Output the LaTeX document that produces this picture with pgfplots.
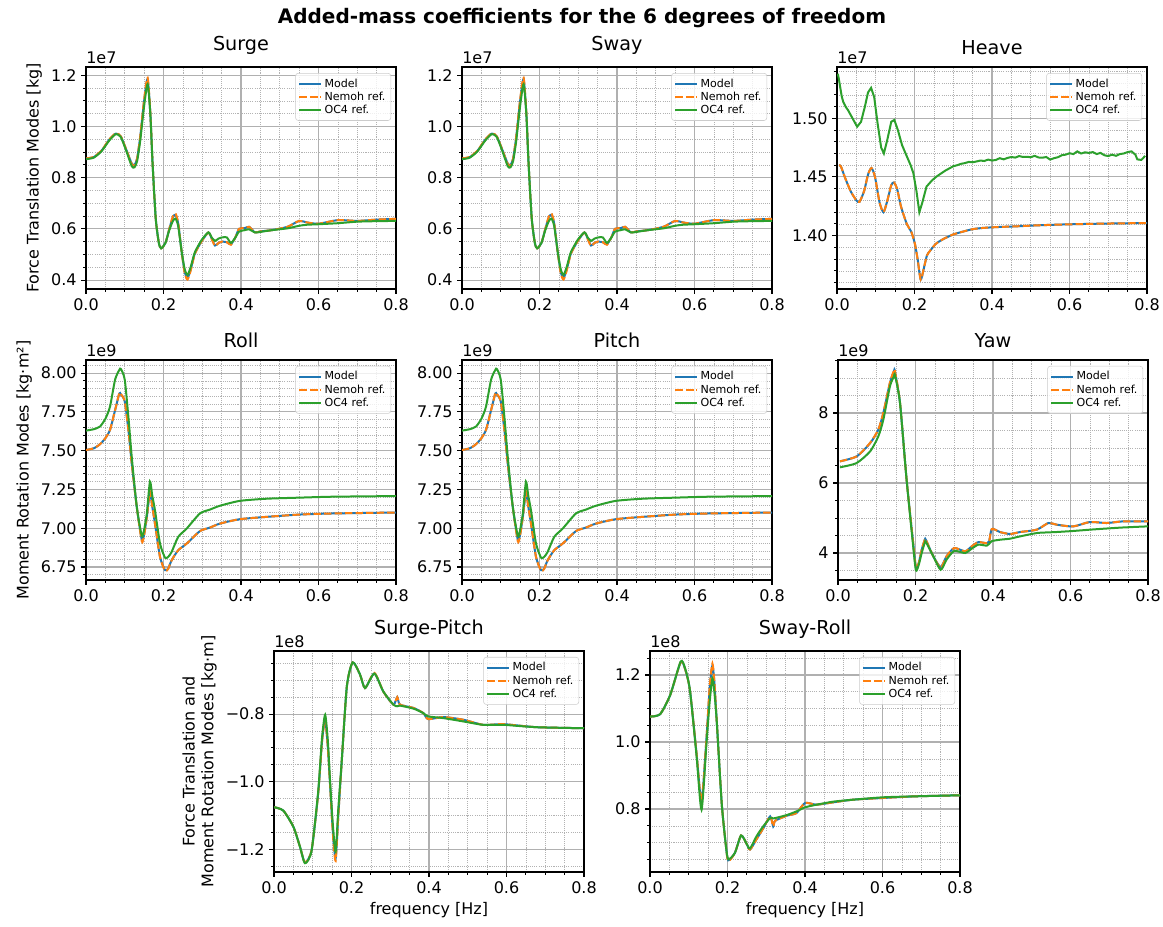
\documentclass[border=0pt]{standalone}
\usepackage{pgfplots}
\usepackage{pgfplotstable}
\usepackage{fontspec}
\setmainfont{DejaVu Sans}
\pgfplotsset{compat=1.18}

\definecolor{c0}{HTML}{1F77B4}
\definecolor{c1}{HTML}{FF7F0E}
\definecolor{c2}{HTML}{2CA02C}
\definecolor{gridgray}{HTML}{B0B0B0}

% data in units of the offset shown above each axis (1e7, 1e9, 1e8)
\pgfplotstableread{
f      m      n      o
0.000  0.875  0.875  0.872
0.020  0.880  0.881  0.878
0.040  0.905  0.906  0.903
0.060  0.948  0.949  0.945
0.077  0.972  0.973  0.970
0.090  0.960  0.961  0.958
0.105  0.905  0.905  0.900
0.118  0.855  0.853  0.845
0.125  0.849  0.847  0.840
0.132  0.875  0.875  0.865
0.140  0.960  0.962  0.945
0.150  1.100  1.105  1.080
0.159  1.185  1.190  1.165
0.166  1.050  1.055  1.050
0.172  0.850  0.850  0.850
0.180  0.640  0.640  0.640
0.188  0.545  0.545  0.545
0.194  0.524  0.524  0.524
0.205  0.545  0.545  0.545
0.215  0.600  0.600  0.595
0.224  0.645  0.648  0.630
0.231  0.655  0.660  0.640
0.238  0.620  0.622  0.610
0.247  0.510  0.508  0.510
0.255  0.430  0.425  0.440
0.262  0.408  0.402  0.420
0.270  0.440  0.436  0.450
0.280  0.500  0.498  0.505
0.290  0.530  0.530  0.535
0.300  0.555  0.555  0.560
0.316  0.586  0.586  0.586
0.325  0.560  0.558  0.565
0.333  0.535  0.533  0.553
0.342  0.545  0.545  0.562
0.350  0.550  0.550  0.566
0.363  0.548  0.548  0.567
0.374  0.540  0.538  0.545
0.385  0.565  0.565  0.565
0.395  0.600  0.600  0.589
0.410  0.603  0.603  0.595
0.421  0.608  0.608  0.598
0.436  0.586  0.586  0.586
0.450  0.590  0.590  0.588
0.480  0.595  0.595  0.595
0.520  0.608  0.608  0.602
0.550  0.631  0.631  0.612
0.570  0.625  0.625  0.616
0.600  0.620  0.620  0.618
0.650  0.634  0.634  0.622
0.700  0.631  0.631  0.628
0.750  0.636  0.636  0.630
0.800  0.639  0.639  0.631
}\surge

\pgfplotstableread{
f      m
0.005  1.4600
0.010  1.4590
0.020  1.4500
0.035  1.4380
0.050  1.4300
0.058  1.4288
0.070  1.4380
0.080  1.4520
0.089  1.4576
0.098  1.4500
0.110  1.4280
0.120  1.4200
0.130  1.4300
0.140  1.4430
0.147  1.4453
0.155  1.4400
0.165  1.4250
0.180  1.4100
0.192  1.4030
0.201  1.3930
0.208  1.3800
0.216  1.3625
0.224  1.3720
0.232  1.3830
0.240  1.3870
0.255  1.3930
0.274  1.3970
0.300  1.4010
0.326  1.4035
0.350  1.4055
0.378  1.4066
0.420  1.4074
0.455  1.4078
0.520  1.4088
0.584  1.4095
0.650  1.4100
0.720  1.4104
0.800  1.4107
}\heavem

\pgfplotstableread{
f      o
0.002  1.5380
0.005  1.5330
0.008  1.5270
0.012  1.5190
0.016  1.5140
0.022  1.5100
0.029  1.5066
0.040  1.5000
0.052  1.4928
0.062  1.4970
0.072  1.5100
0.080  1.5220
0.088  1.5260
0.096  1.5180
0.105  1.4950
0.114  1.4750
0.121  1.4700
0.130  1.4820
0.140  1.4970
0.148  1.4986
0.157  1.4900
0.168  1.4770
0.180  1.4677
0.190  1.4600
0.197  1.4533
0.205  1.4380
0.2125 1.4200
0.220  1.4280
0.231  1.4418
0.245  1.4470
0.257  1.4504
0.280  1.4555
0.300  1.4591
0.310  1.4600
0.320  1.4612
0.330  1.4618
0.340  1.4628
0.350  1.4625
0.360  1.4632
0.370  1.4640
0.380  1.4636
0.390  1.4648
0.400  1.4640
0.410  1.4645
0.420  1.4660
0.430  1.4650
0.440  1.4662
0.450  1.4670
0.460  1.4665
0.470  1.4678
0.480  1.4670
0.490  1.4672
0.500  1.4668
0.510  1.4680
0.520  1.4666
0.530  1.4664
0.540  1.4670
0.550  1.4648
0.560  1.4660
0.570  1.4668
0.580  1.4685
0.590  1.4690
0.600  1.4702
0.610  1.4695
0.620  1.4718
0.630  1.4700
0.640  1.4710
0.650  1.4705
0.660  1.4712
0.670  1.4695
0.680  1.4705
0.690  1.4685
0.700  1.4678
0.710  1.4690
0.720  1.4680
0.730  1.4695
0.740  1.4700
0.750  1.4712
0.760  1.4718
0.770  1.4690
0.775  1.4650
0.785  1.4645
0.790  1.4660
0.795  1.4680
}\heaveo

\pgfplotstableread{
f      m      n      o
0.000  7.504  7.504  7.629
0.020  7.515  7.515  7.638
0.036  7.541  7.541  7.655
0.050  7.580  7.580  7.705
0.062  7.634  7.634  7.784
0.075  7.760  7.760  7.957
0.086  7.868  7.871  8.020
0.090  7.862  7.865  8.026
0.100  7.817  7.817  7.957
0.110  7.620  7.620  7.700
0.118  7.418  7.418  7.461
0.131  7.138  7.138  7.138
0.144  6.925  6.915  6.950
0.150  6.960  6.955  6.990
0.157  7.073  7.073  7.095
0.165  7.230  7.238  7.300
0.171  7.140  7.140  7.210
0.178  7.030  7.030  7.116
0.191  6.815  6.815  6.901
0.204  6.730  6.726  6.810
0.212  6.740  6.738  6.815
0.221  6.793  6.793  6.847
0.238  6.858  6.858  6.944
0.260  6.901  6.901  6.998
0.294  6.981  6.981  7.095
0.320  7.004  7.004  7.120
0.346  7.030  7.030  7.145
0.397  7.058  7.058  7.176
0.466  7.073  7.073  7.190
0.552  7.088  7.088  7.197
0.638  7.095  7.095  7.203
0.800  7.101  7.101  7.207
}\roll

\pgfplotstableread{
f      m      n      o
0.005  6.619  6.619  6.448
0.048  6.760  6.760  6.571
0.083  7.140  7.150  6.905
0.104  7.520  7.530  7.333
0.117  8.000  8.010  7.810
0.134  8.857  8.870  8.762
0.1445 9.200  9.215  9.050
0.147  9.180  9.190  9.080
0.160  8.286  8.300  8.286
0.177  6.095  6.095  6.095
0.194  4.286  4.286  4.190
0.201  3.600  3.600  3.505
0.208  3.700  3.700  3.650
0.216  4.095  4.095  4.000
0.224  4.381  4.381  4.300
0.227  4.370  4.370  4.314
0.246  3.905  3.905  3.905
0.265  3.600  3.580  3.520
0.280  3.905  3.905  3.810
0.300  4.143  4.143  4.060
0.328  4.048  4.048  4.000
0.345  4.190  4.190  4.124
0.362  4.310  4.310  4.238
0.384  4.280  4.280  4.210
0.390  4.330  4.330  4.260
0.397  4.686  4.686  4.340
0.418  4.600  4.600  4.380
0.444  4.543  4.543  4.410
0.470  4.600  4.600  4.476
0.513  4.667  4.667  4.571
0.543  4.857  4.857  4.590
0.564  4.810  4.810  4.600
0.607  4.760  4.760  4.630
0.650  4.886  4.886  4.667
0.693  4.857  4.857  4.700
0.736  4.905  4.905  4.730
0.800  4.905  4.905  4.762
}\yaw

\pgfplotstableread{
f      m       n       o
0.000  -1.076  -1.076  -1.076
0.024  -1.086  -1.086  -1.086
0.050  -1.134  -1.134  -1.134
0.067  -1.193  -1.193  -1.193
0.080  -1.240  -1.240  -1.242
0.097  -1.203  -1.203  -1.205
0.114  -1.035  -1.035  -1.030
0.124  -0.880  -0.880  -0.870
0.132  -0.817  -0.817  -0.802
0.139  -0.900  -0.900  -0.880
0.145  -1.015  -1.015  -1.005
0.152  -1.150  -1.155  -1.130
0.159  -1.228  -1.235  -1.208
0.166  -1.100  -1.100  -1.080
0.175  -0.936  -0.936  -0.936
0.188  -0.718  -0.718  -0.718
0.203  -0.647  -0.647  -0.647
0.222  -0.683  -0.683  -0.683
0.235  -0.723  -0.723  -0.723
0.259  -0.680  -0.678  -0.680
0.282  -0.733  -0.733  -0.733
0.308  -0.772  -0.772  -0.772
0.318  -0.750  -0.750  -0.777
0.325  -0.772  -0.772  -0.775
0.360  -0.782  -0.782  -0.784
0.385  -0.797  -0.797  -0.797
0.398  -0.815  -0.815  -0.807
0.437  -0.809  -0.809  -0.812
0.489  -0.817  -0.817  -0.822
0.540  -0.832  -0.832  -0.832
0.592  -0.830  -0.830  -0.832
0.678  -0.839  -0.839  -0.839
0.800  -0.842  -0.842  -0.842
}\surgepitch

\pgfplotstableread{
f      m      n      o
0.000  1.076  1.076  1.076
0.026  1.083  1.083  1.083
0.052  1.140  1.140  1.140
0.079  1.238  1.238  1.240
0.090  1.220  1.220  1.222
0.103  1.155  1.155  1.155
0.120  0.967  0.967  0.960
0.133  0.823  0.823  0.798
0.146  1.016  1.016  1.000
0.154  1.160  1.165  1.120
0.161  1.228  1.234  1.190
0.166  1.180  1.182  1.150
0.172  1.066  1.066  1.066
0.185  0.818  0.818  0.818
0.196  0.689  0.689  0.689
0.202  0.647  0.645  0.650
0.219  0.669  0.669  0.669
0.235  0.721  0.721  0.721
0.249  0.697  0.697  0.697
0.258  0.679  0.679  0.682
0.275  0.710  0.710  0.719
0.292  0.742  0.742  0.748
0.310  0.778  0.778  0.773
0.318  0.748  0.748  0.772
0.323  0.765  0.765  0.773
0.353  0.780  0.780  0.782
0.378  0.788  0.788  0.793
0.400  0.818  0.818  0.805
0.430  0.813  0.813  0.813
0.473  0.820  0.820  0.822
0.525  0.828  0.828  0.828
0.602  0.833  0.833  0.835
0.688  0.838  0.838  0.838
0.800  0.841  0.841  0.841
}\swayroll

\pgfplotsset{
  panel/.style={
    scale only axis, width=232.5pt, height=165.75pt,
    xmin=0, xmax=0.8,
    xtick={0,0.2,0.4,0.6,0.8},
    minor xtick={0.05,0.1,0.15,0.25,0.3,0.35,0.45,0.5,0.55,0.65,0.7,0.75},
    x tick label style={/pgf/number format/.cd, fixed, fixed zerofill, precision=1, /tikz/.cd},
    scaled ticks=false,
    /pgf/number format/assume math mode=true,
    grid=both,
    major grid style={draw=gridgray, line width=0.8pt},
    minor grid style={draw=gray!60, line width=0.4pt, dash pattern=on 0.8pt off 0.8pt},
    tick align=outside, tick pos=left,
    major tick length=3.5pt, minor tick length=2pt,
    every major tick/.append style={black, line width=0.8pt},
    every minor tick/.append style={black, line width=0.6pt},
    axis line style={line width=0.8pt},
    tick label style={font=\fontsize{12}{14}\selectfont},
    label style={font=\fontsize{12}{14}\selectfont},
    title style={font=\fontsize{14.4}{17}\selectfont, yshift=0pt},
    legend style={at={(0.984,0.973)}, anchor=north east,
      font=\fontsize{8.3}{10}\selectfont, draw=black!20, rounded corners=2pt,
      fill=white, fill opacity=0.8, text opacity=1, inner sep=2pt, row sep=-2pt},
    legend cell align=left,
    legend image post style={xscale=0.95},
  },
  offset/.style={extra description/.code={
    \node[anchor=south west, inner sep=0pt, font=\fontsize{12}{14}\selectfont]
      at (0,1.015) {#1};}},
  model/.style={c0, line width=1.5pt, smooth, tension=0.4},
  nemoh/.style={c1, line width=1.5pt, dash pattern=on 5.5pt off 2.4pt, smooth, tension=0.4},
  oc4/.style={c2, line width=1.5pt, smooth, tension=0.4},
}

\newcommand{\threeplots}[1]{%
  \addplot[model] table[x=f, y=m] {#1};
  \addplot[nemoh] table[x=f, y=n] {#1};
  \addplot[oc4] table[x=f, y=o] {#1};
  \legend{Model, Nemoh ref., OC4 ref.}
}

\begin{document}
\begin{tikzpicture}
\useasboundingbox (0,0) rectangle (872.25pt,-694.5pt);

\node[font=\fontsize{15}{18}\selectfont\bfseries] at (436.5pt,-13.5pt) {Added-mass coefficients for the 6 degrees of freedom};

% row 1: translations
\begin{axis}[panel, at={(64.5pt,-50.25pt)}, anchor=north west, height=166.5pt,
  title={Surge}, ylabel={Force Translation Modes [kg]}, offset={1e7},
  ymin=0.365, ymax=1.232, ytick={0.4,0.6,0.8,1.0,1.2},
  minor ytick={0.45,0.5,0.55,0.65,0.7,0.75,0.85,0.9,0.95,1.05,1.1,1.15,1.25},
  y tick label style={/pgf/number format/.cd, fixed, fixed zerofill, precision=1, /tikz/.cd}]
\threeplots{\surge}
\end{axis}

\begin{axis}[panel, at={(346.5pt,-50.25pt)}, anchor=north west, height=166.5pt,
  title={Sway}, offset={1e7},
  ymin=0.365, ymax=1.232, ytick={0.4,0.6,0.8,1.0,1.2},
  minor ytick={0.45,0.5,0.55,0.65,0.7,0.75,0.85,0.9,0.95,1.05,1.1,1.15,1.25},
  y tick label style={/pgf/number format/.cd, fixed, fixed zerofill, precision=1, /tikz/.cd}]
\threeplots{\surge}
\end{axis}

\begin{axis}[panel, at={(627.75pt,-50.25pt)}, anchor=north west, height=166.5pt,
  title={Heave}, offset={1e7},
  ymin=1.3545, ymax=1.5437, ytick={1.40,1.45,1.50},
  minor ytick={1.36,1.37,1.38,1.39,1.41,1.42,1.43,1.44,1.46,1.47,1.48,1.49,1.51,1.52,1.53,1.54},
  y tick label style={/pgf/number format/.cd, fixed, fixed zerofill, precision=2, /tikz/.cd}]
\addplot[model] table[x=f, y=m] {\heavem};
\addplot[nemoh] table[x=f, y=m] {\heavem};
\addplot[c2, line width=1.5pt] table[x=f, y=o] {\heaveo};
\legend{Model, Nemoh ref., OC4 ref.}
\end{axis}

% row 2: rotations
\begin{axis}[panel, at={(64.5pt,-270pt)}, anchor=north west, height=165pt,
  title={Roll}, ylabel={Moment Rotation Modes [kg·m²]}, offset={1e9},
  ymin=6.666, ymax=8.084, ytick={6.75,7.00,7.25,7.50,7.75,8.00},
  minor ytick={6.7,6.8,6.85,6.9,6.95,7.05,7.1,7.15,7.2,7.3,7.35,7.4,7.45,7.55,7.6,7.65,7.7,7.8,7.85,7.9,7.95,8.05},
  y tick label style={/pgf/number format/.cd, fixed, fixed zerofill, precision=2, /tikz/.cd}]
\threeplots{\roll}
\end{axis}

\begin{axis}[panel, at={(346.5pt,-270pt)}, anchor=north west, height=165pt,
  title={Pitch}, offset={1e9},
  ymin=6.666, ymax=8.084, ytick={6.75,7.00,7.25,7.50,7.75,8.00},
  minor ytick={6.7,6.8,6.85,6.9,6.95,7.05,7.1,7.15,7.2,7.3,7.35,7.4,7.45,7.55,7.6,7.65,7.7,7.8,7.85,7.9,7.95,8.05},
  y tick label style={/pgf/number format/.cd, fixed, fixed zerofill, precision=2, /tikz/.cd}]
\threeplots{\roll}
\end{axis}

\begin{axis}[panel, at={(628.5pt,-270pt)}, anchor=north west, height=165pt,
  title={Yaw}, offset={1e9},
  ymin=3.229, ymax=9.514, ytick={4,6,8},
  minor ytick={3.5,4.5,5,5.5,6.5,7,7.5,8.5,9,9.5},
  y tick label style={/pgf/number format/.cd, fixed, precision=0, /tikz/.cd}]
\threeplots{\yaw}
\end{axis}

% row 3: coupling terms
\begin{axis}[panel, at={(205.5pt,-488.25pt)}, anchor=north west,
  title={Surge-Pitch}, offset={1e8}, xlabel={frequency [Hz]},
  ylabel={Force Translation and\\Moment Rotation Modes [kg·m]},
  ylabel style={align=center},
  ymin=-1.268, ymax=-0.6133, ytick={-1.2,-1.0,-0.8}, yticklabels={−1.2,−1.0,−0.8},
  minor ytick={-1.25,-1.15,-1.1,-1.05,-0.95,-0.9,-0.85,-0.75,-0.7,-0.65}]
\threeplots{\surgepitch}
\end{axis}

\begin{axis}[panel, at={(487.5pt,-488.25pt)}, anchor=north west,
  title={Sway-Roll}, offset={1e8}, xlabel={frequency [Hz]},
  ymin=0.612, ymax=1.2716, ytick={0.8,1.0,1.2},
  minor ytick={0.65,0.7,0.75,0.85,0.9,0.95,1.05,1.1,1.15,1.25},
  y tick label style={/pgf/number format/.cd, fixed, fixed zerofill, precision=1, /tikz/.cd}]
\threeplots{\swayroll}
\end{axis}
\end{tikzpicture}
\end{document}
